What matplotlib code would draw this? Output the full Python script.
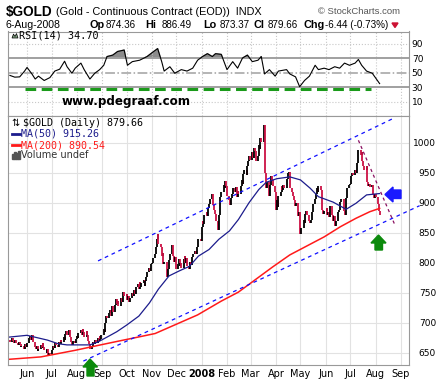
import matplotlib
matplotlib.use("Agg")
import matplotlib.pyplot as plt
import numpy as np
import pandas as pd
from matplotlib.patches import Polygon, Rectangle
from matplotlib.lines import Line2D

# daily closes, one list per month
may07 = [672, 668, 674, 670, 666, 671, 667, 663, 668, 664, 659, 662, 657, 661, 665, 660]
jun07 = [666, 674, 678, 672, 680, 668, 660, 656, 662, 653, 657, 663, 658, 666, 660, 654, 650, 656, 646, 650, 648]
jul07 = [655, 662, 658, 666, 663, 660, 668, 665, 671, 668, 676, 672, 681, 686, 680, 688, 676, 668, 663, 670, 666, 673]
aug07 = [678, 674, 683, 688, 679, 690, 684, 676, 686, 679, 670, 664, 657, 662, 668, 664, 672, 667, 675, 670, 678, 673, 680]
sep07 = [690, 684, 700, 712, 708, 716, 722, 712, 728, 718, 730, 740, 732, 737, 728, 742, 735, 746, 752, 744]
oct07 = [748, 738, 744, 734, 742, 750, 745, 755, 748, 760, 764, 756, 768, 760, 766, 772, 762, 770, 776, 785, 792, 786, 798]
nov07 = [800, 808, 815, 826, 840, 848, 832, 826, 812, 816, 798, 802, 786, 776, 790, 805, 815, 830, 812, 802, 810, 790]
dec07 = [798, 806, 794, 800, 792, 806, 812, 800, 808, 795, 790, 802, 796, 810, 814, 820, 815, 826, 834, 840, 836]
jan08 = [860, 870, 864, 880, 885, 878, 892, 898, 906, 914, 896, 888, 882, 870, 855, 880, 896, 910, 918, 930, 924, 936, 928]
feb08 = [912, 904, 896, 908, 914, 924, 918, 926, 910, 920, 914, 928, 938, 932, 948, 955, 946, 962, 970, 978, 972]
mar08 = [985, 975, 992, 986, 970, 978, 996, 990, 1008, 1002, 1030, 1005, 950, 925, 935, 912, 930, 945, 938, 928, 918]
apr08 = [888, 905, 893, 912, 918, 928, 922, 930, 925, 932, 940, 950, 952, 925, 918, 912, 905, 895, 900, 878, 885, 865]
may08 = [848, 858, 872, 866, 882, 886, 880, 870, 866, 872, 884, 898, 906, 914, 925, 918, 928, 922, 905, 888, 882, 886]
jun08 = [892, 880, 885, 876, 895, 880, 870, 878, 862, 870, 884, 888, 896, 902, 906, 886, 884, 880, 908, 925, 930]
jul08 = [932, 944, 950, 946, 955, 950, 966, 976, 988, 980, 984, 970, 962, 955, 962, 935, 928, 932, 926, 930, 915, 908, 914]
aug08 = [910, 898, 886.10, 879.66]

months = [("2007-05-10", may07), ("2007-06-01", jun07), ("2007-07-01", jul07),
          ("2007-08-01", aug07), ("2007-09-01", sep07), ("2007-10-01", oct07),
          ("2007-11-01", nov07), ("2007-12-01", dec07), ("2008-01-01", jan08),
          ("2008-02-01", feb08), ("2008-03-01", mar08), ("2008-04-01", apr08),
          ("2008-05-01", may08), ("2008-06-01", jun08), ("2008-07-01", jul08),
          ("2008-08-01", aug08)]

ma50_dates = ["2007-05-10", "2007-06-01", "2007-06-26", "2007-07-09", "2007-07-20", "2007-08-17",
              "2007-08-27", "2007-09-07", "2007-09-19", "2007-10-01", "2007-10-16", "2007-10-29",
              "2007-11-09", "2007-11-22", "2007-12-04", "2007-12-17", "2007-12-28", "2008-01-10",
              "2008-01-22", "2008-02-04", "2008-02-15", "2008-02-28", "2008-03-11", "2008-03-20",
              "2008-04-02", "2008-04-18", "2008-05-01", "2008-05-13", "2008-05-23", "2008-06-10",
              "2008-06-26", "2008-07-08", "2008-07-21", "2008-08-06"]
ma50_vals = [676, 679, 671, 665, 663, 663, 668, 676, 685, 696, 711, 733, 756, 778, 786, 794, 811,
             822, 839, 853, 872, 900, 922, 934, 940, 943, 938, 924, 910, 901, 889, 899, 913, 915.26]

ma200_dates = ["2007-05-10", "2007-06-18", "2007-07-30", "2007-08-30", "2007-09-20", "2007-10-15",
               "2007-11-05", "2007-12-27", "2008-01-25", "2008-02-15", "2008-03-06", "2008-03-28",
               "2008-04-18", "2008-05-09", "2008-05-30", "2008-06-19", "2008-07-08", "2008-07-25",
               "2008-08-06"]
ma200_vals = [639, 643, 654, 663, 669, 676, 682, 713, 736, 751, 771, 793, 813, 828, 843, 860, 874,
              885, 890.54]

rsi_dates = ["2007-05-11", "2007-05-17", "2007-05-23", "2007-05-29", "2007-06-01", "2007-06-07",
             "2007-06-11", "2007-06-15", "2007-06-22", "2007-06-29", "2007-07-05", "2007-07-11",
             "2007-07-17", "2007-07-20", "2007-07-26", "2007-07-30", "2007-08-06", "2007-08-10",
             "2007-08-17", "2007-08-23", "2007-08-29", "2007-09-03", "2007-09-07", "2007-09-14",
             "2007-09-20", "2007-09-28", "2007-10-02", "2007-10-08", "2007-10-17", "2007-10-26",
             "2007-11-02", "2007-11-08", "2007-11-13", "2007-11-16", "2007-11-23", "2007-11-29",
             "2007-12-07", "2007-12-14", "2007-12-21", "2007-12-27", "2008-01-02", "2008-01-08",
             "2008-01-14", "2008-01-18", "2008-01-25", "2008-02-01", "2008-02-08", "2008-02-14",
             "2008-02-20", "2008-02-26", "2008-03-03", "2008-03-10", "2008-03-14", "2008-03-18",
             "2008-03-24", "2008-03-31", "2008-04-04", "2008-04-14", "2008-04-18", "2008-04-25",
             "2008-04-30", "2008-05-06", "2008-05-12", "2008-05-19", "2008-05-23", "2008-05-30",
             "2008-06-05", "2008-06-12", "2008-06-18", "2008-06-24", "2008-06-30", "2008-07-07",
             "2008-07-11", "2008-07-15", "2008-07-21", "2008-07-28", "2008-08-06"]
rsi_vals = [46, 43.6, 44, 52, 57, 48, 41, 45, 39, 43, 52, 54.6, 65.6, 58, 49, 56, 63, 54, 41, 49,
            54, 60, 72, 74, 79, 81, 60, 65, 67, 72, 78, 83, 65, 52, 58, 49, 54, 52, 56, 67, 72, 76,
            72, 76, 75, 54, 65, 56, 70, 74, 65, 67, 72, 48, 54, 45, 52, 54, 48, 44, 30.4, 39, 45,
            60, 54, 56, 54, 58, 56, 63, 60, 63, 68, 60, 52, 49, 34.7]

# hand-drawn trend lines (start, end)
upper_trend = (["2007-08-27", "2008-08-22"], [803, 1040])
lower_trend = (["2007-08-09", "2008-09-24"], [636, 895])
down_trend = (["2008-07-11", "2008-08-25"], [1004, 862])
rsi_support = (["2007-05-29", "2008-07-26"], [27.3, 27.3])

month_ticks = pd.date_range("2007-06-01", "2008-09-01", freq="MS")
month_labels = ["Jun", "Jul", "Aug", "Sep", "Oct", "Nov", "Dec", "2008", "Feb", "Mar", "Apr",
                "May", "Jun", "Jul", "Aug", "Sep"]

W, H = 446, 386


def P(x, y):
    return (x / W, 1 - y / H)


dates = []
closes = []
for start, vals in months:
    dates.extend(pd.bdate_range(start, periods=len(vals)))
    closes.extend(vals)
dates = pd.DatetimeIndex(dates)
closes = np.array(closes, dtype=float)
opens = np.r_[closes[0], closes[:-1]]
lo = np.minimum(opens, closes)
hi = np.maximum(opens, closes)
bar_colors = np.where(closes >= opens, "black", "#cc1144")

fig = plt.figure(figsize=(W / 100, H / 100), dpi=100)
fig.patch.set_facecolor("white")

ax_rsi = fig.add_axes([8 / W, 1 - 116 / H, 401 / W, 84.5 / H])
ax = fig.add_axes([8 / W, 1 - 365 / H, 401 / W, 249 / H], sharex=ax_rsi)

for a in (ax, ax_rsi):
    for s in a.spines.values():
        s.set_color("#999999")
        s.set_linewidth(0.8)

# ---- RSI panel
rsi_d = pd.to_datetime(rsi_dates)
rsi_v = np.array(rsi_vals)
ax_rsi.set_ylim(-10, 106.6)
ax_rsi.grid(axis="x", ls=":", color="#c8c8c8", lw=0.8)
for lvl in (90, 10):
    ax_rsi.axhline(lvl, ls=":", color="#c8c8c8", lw=0.8)
ax_rsi.axhline(70, color="#a0a0a0", lw=1.4)
ax_rsi.axhline(30, color="#a0a0a0", lw=1.4)
ax_rsi.axhline(50, color="#a0a0a0", lw=1.1, ls="-.")
ax_rsi.fill_between(rsi_d, 70, rsi_v, where=rsi_v > 70, interpolate=True, color="#8c8c8c")
ax_rsi.plot(rsi_d, rsi_v, color="black", lw=0.8)
ax_rsi.plot(pd.to_datetime(rsi_support[0]), rsi_support[1], color="#1a9a1a", lw=2.2,
            dashes=(3.5, 1.8))
ax_rsi.yaxis.tick_right()
ax_rsi.set_yticks([10, 30, 50, 70, 90])
ax_rsi.tick_params(axis="y", length=0, pad=2, labelsize=6.5)
ax_rsi.tick_params(axis="x", length=0, labelbottom=False)

# ---- price panel
ax.set_ylim(629.5, 1044.5)
ax.set_xlim(pd.Timestamp("2007-05-08 16:00"), pd.Timestamp("2008-09-11"))
ax.grid(color="#e2e2e2", lw=0.8)
ax.set_axisbelow(True)
ax.vlines(dates, lo, hi, colors=bar_colors, lw=1.3)
ax.plot(pd.to_datetime(ma50_dates), ma50_vals, color="#1c1c8c", lw=0.9)
ax.plot(pd.to_datetime(ma200_dates), ma200_vals, color="#ff1a1a", lw=1.1)
ax.plot(pd.to_datetime(upper_trend[0]), upper_trend[1], color="#1010ff", lw=0.9, dashes=(3, 3))
ax.plot(pd.to_datetime(lower_trend[0]), lower_trend[1], color="#1010ff", lw=0.9, dashes=(3, 3),
        clip_on=False)
ax.plot(pd.to_datetime(down_trend[0]), down_trend[1], color="#8a1060", lw=0.9, dashes=(2.5, 2.5))

ax.yaxis.tick_right()
ax.set_yticks(range(650, 1001, 50))
ax.tick_params(axis="y", length=0, pad=19.5, labelsize=6.5)
for t in ax.get_yticklabels():
    t.set_horizontalalignment("right")
ax.set_xticks(month_ticks)
ax.set_xticklabels(month_labels)
ax.tick_params(axis="x", length=0, pad=3, labelsize=7)
ax.get_xticklabels()[7].set_fontweight("bold")

# ---- header
hf = "Liberation Sans"
fig.text(*P(6, 12), "$GOLD", fontsize=9.8, fontweight="bold", va="center", family=hf)
fig.text(*P(56, 12), "(Gold - Continuous Contract (EOD))  INDX", fontsize=7.8, va="center",
         family=hf)
fig.text(*P(318, 12), "\u00a9 StockCharts.com", fontsize=6.8, va="center", color="#555555",
         family=hf)
fig.text(*P(5, 25), "6-Aug-2008", fontsize=7.6, va="center", family=hf)
hdr = [(89, "Op", True), (106, "874.36", False), (145, "Hi", True), (162, "886.49", False),
       (203, "Lo", True), (220, "873.37", False), (254, "Cl", True), (268, "879.66", False),
       (303, "Chg", True), (325, "-6.44 (-0.73%)", False)]
for x, s, b in hdr:
    fig.text(*P(x, 25), s, fontsize=7.8 if b else 7.1, va="center",
             fontweight="bold" if b else "normal", family=hf)
fig.add_artist(Polygon([P(392, 23), P(398, 23), P(395, 27.5)], closed=True,
                       transform=fig.transFigure, color="#cc1133"))

# ---- RSI label and icon
fig.add_artist(Polygon([P(12, 38), P(13.5, 34), P(15, 36.5), P(16.5, 33.5), P(18, 38)],
                       closed=True, transform=fig.transFigure, facecolor="#7f9f7f",
                       edgecolor="black", lw=0.5))
fig.text(*P(19, 35.5), "RSI(14) 34.70", fontsize=7.3, family="DejaVu Sans Mono", va="center")
fig.text(*P(126, 102), "www.pdegraaf.com", fontsize=8.6, fontweight="bold", va="center",
         ha="center")

# ---- price legend
fig.text(*P(11, 123), "\u21c5", fontsize=7, va="center")
fig.text(*P(23, 123), "$GOLD (Daily) 879.66", fontsize=7.2, family="DejaVu Sans Mono",
         va="center")
fig.add_artist(Line2D([12 / W, 20 / W], [1 - 134 / H] * 2, color="#1c1c8c", lw=2,
                      transform=fig.transFigure))
fig.text(*P(21, 134), "MA(50) 915.26", fontsize=7.2, family="DejaVu Sans Mono", va="center",
         color="#1c1c8c")
fig.add_artist(Line2D([12 / W, 20 / W], [1 - 145 / H] * 2, color="#ff1a1a", lw=2,
                      transform=fig.transFigure))
fig.text(*P(21, 145), "MA(200) 890.54", fontsize=7.2, family="DejaVu Sans Mono", va="center",
         color="#ff1a1a")
for bx, bh in [(12, 5), (14, 7), (16, 6), (18, 8)]:
    fig.add_artist(Rectangle(P(bx, 159), 1.5 / W, bh / H, transform=fig.transFigure,
                             color="#555555"))
fig.text(*P(21, 155), "Volume undef", fontsize=7, va="center", color="#333333")

# ---- arrows
green = "#0c8a0c"
fig.add_artist(Polygon([P(90, 359), P(97.5, 367), P(94, 367), P(94, 376), P(87, 376),
                        P(87, 367), P(83, 367)], closed=True, transform=fig.transFigure,
                       color=green))
fig.add_artist(Polygon([P(378.5, 235), P(386, 243), P(382.5, 243), P(382.5, 250), P(375, 250),
                        P(375, 243), P(371, 243)], closed=True, transform=fig.transFigure,
                       color=green))
fig.add_artist(Polygon([P(385, 194.5), P(393, 187), P(393, 190), P(401, 190), P(401, 198.5),
                        P(393, 198.5), P(393, 202)], closed=True, transform=fig.transFigure,
                       color="#1a1aff"))

fig.savefig("out.png", dpi=100, facecolor="white")
